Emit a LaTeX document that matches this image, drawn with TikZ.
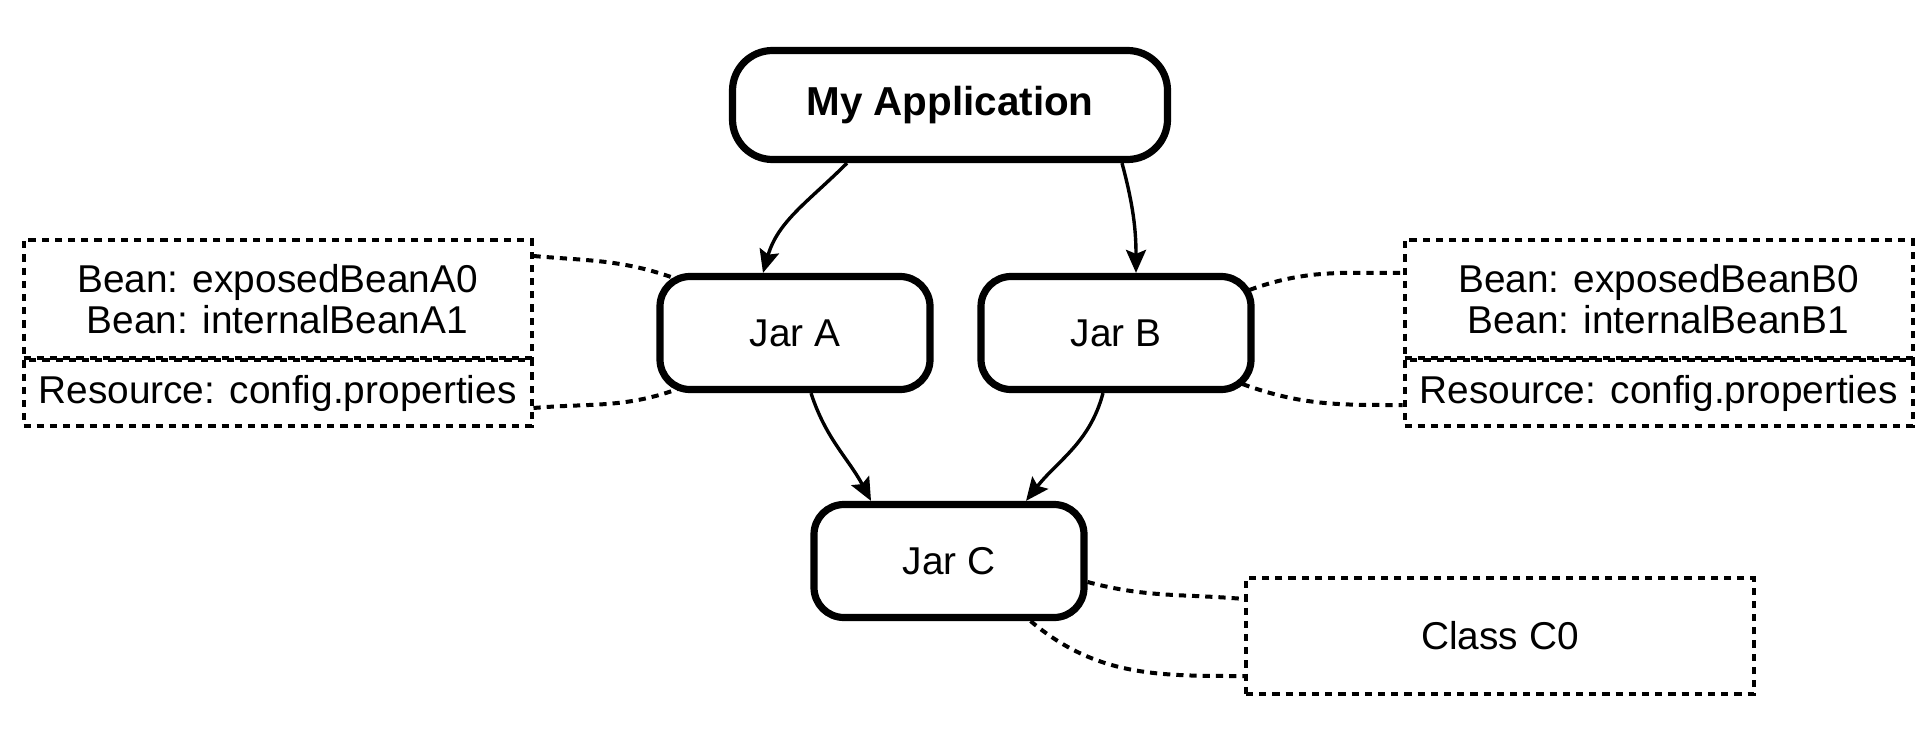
\documentclass[tikz,border=0pt]{standalone}
\usepackage{fontspec}
\setmainfont{Liberation Sans}
\usetikzlibrary{arrows.meta}
\begin{document}
\begin{tikzpicture}[x=0.5pt,y=-0.5pt,
  jar/.style={draw, line width=3.6pt, rounded corners=15pt, minimum width=135pt, minimum height=56.5pt, inner sep=0pt, font=\fontsize{19.4}{20.5}\selectfont},
  appbox/.style={draw, line width=3.6pt, rounded corners=20pt, minimum width=217.5pt, minimum height=54.5pt, inner sep=0pt, font=\fontsize{20.2}{22}\selectfont\bfseries},
  infobox/.style={draw, line width=2pt, dash pattern=on 3.6pt off 3pt, minimum width=254pt, inner sep=0pt, align=center, font=\fontsize{19.4}{20.5}\selectfont},
  dep/.style={-{Stealth[length=11.5pt,width=10pt,inset=2pt]}, line width=1.7pt},
  link/.style={line width=2pt, dash pattern=on 3.6pt off 3pt}
]
\useasboundingbox (0,0) rectangle (1920,738);
\node[appbox] (App) at (950,105) {My Application};
\node[jar] (JA) at (795,333) {Jar A};
\node[jar] (JB) at (1116,333) {Jar B};
\node[jar] (JC) at (949,561) {Jar C};
\node[infobox, minimum height=59pt] (LA) at (277.5,299) {Bean: exposedBeanA0\\Bean: internalBeanA1};
\node[infobox, minimum height=33pt] (LR) at (277.5,393) {Resource: config.properties};
\node[infobox, minimum height=59pt] (RA) at (1658.5,299) {Bean: exposedBeanB0\\Bean: internalBeanB1};
\node[infobox, minimum height=33pt] (RR) at (1658.5,393) {Resource: config.properties};
\node[infobox, minimum height=58pt] (CC) at (1500,636) {Class C0};
% dependency arrows
\draw[dep] ([xshift=-51.5pt]App.south) to[out=-135,in=74] ([xshift=-16pt]JA.north);
\draw[dep] ([xshift=86pt]App.south) to[out=-75,in=90] ([xshift=10pt]JB.north);
\draw[dep] ([xshift=8pt]JA.south) to[out=-72,in=118] ([xshift=-39pt]JC.north);
\draw[dep] ([xshift=-6.5pt]JB.south) to[out=-105,in=52] ([xshift=38.5pt]JC.north);
% dashed links
\draw[link] ([yshift=-9pt]LA.north east) to[out=-5,in=160] ([xshift=10pt,yshift=-3pt]JA.north west);
\draw[link] ([yshift=-7.5pt]LR.east) to[out=5,in=-160] ([xshift=10.5pt,yshift=2pt]JA.south west);
\draw[link] ([xshift=-2.5pt,yshift=-8.5pt]JB.north east) to[out=20,in=180] ([yshift=-17.5pt]RA.north west);
\draw[link] ([xshift=-6pt,yshift=4.5pt]JB.south east) to[out=-20,in=180] ([yshift=-6pt]RR.west);
\draw[link] ([yshift=-10.5pt]JC.east) to[out=-15,in=175] ([yshift=-11.5pt]CC.north west);
\draw[link] ([xshift=-28.5pt]JC.south east) to[out=-40,in=180] ([yshift=10pt]CC.south west);
\end{tikzpicture}
\end{document}
